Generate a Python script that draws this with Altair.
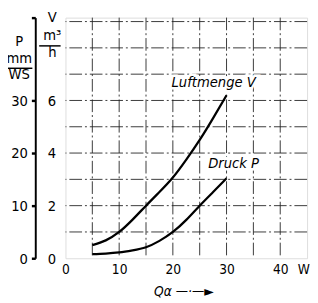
import altair as alt
import pandas as pd

# ---- data ----
q_w = [5, 7.5, 10, 12.5, 15, 17.5, 20, 22.5, 25, 27.5, 30]
luftmenge_v = [0.5, 0.68, 1.0, 1.47, 2.0, 2.52, 3.07, 3.75, 4.5, 5.33, 6.2]     # m3/h
druck_p = [0.8, 0.9, 1.1, 1.5, 2.1, 3.3, 5.0, 7.3, 10.0, 12.6, 15.2]            # mm WS

x_grid = [5, 10, 15, 20, 25, 30, 35, 40]
v_grid = [1, 2, 3, 4, 5, 6, 7, 8, 9]
x_ticks = [0, 10, 20, 30, 40, 44.3]
v_ticks = [0, 2, 4, 6]

label_text = ["Luftmenge V", "Druck P"]
label_q = [27.6, 31.3]
label_v = [6.7, 3.6]

P_PER_V = 5.0      # 30 mm WS <-> 6 m3/h
V_MAX = 9.15
X_MAX = 45

FONT = "DejaVu Sans Condensed, Liberation Sans Narrow, Liberation Sans, sans-serif"

curves = pd.DataFrame({
    "q": q_w + q_w,
    "v": luftmenge_v + [p / P_PER_V for p in druck_p],
    "series": ["V"] * len(q_w) + ["P"] * len(q_w),
})
vgrid_df = pd.DataFrame({"gx": x_grid})
hgrid_df = pd.DataFrame({"gy": v_grid})
labels_df = pd.DataFrame({"t": label_text, "q": label_q, "v": label_v})

xs = alt.Scale(domain=[0, X_MAX], nice=False, zero=False)
ys = alt.Scale(domain=[0, V_MAX], nice=False)

x_axis = alt.Axis(
    values=x_ticks, labelExpr="datum.value > 42 ? 'W' : datum.value",
    ticks=False, domain=False, grid=False, labelPadding=5,
    labelFont=FONT, labelFontSize=14, labelColor="black",
    labelOverlap=False, labelFlush=False,
    title="Qα  —·—►", titleFont=FONT, titleFontSize=14, titleFontStyle="italic",
    titleFontWeight="normal", titleColor="black", titleX=121, titleY=34,
    titleAlign="center", titleBaseline="middle",
)

v_axis = alt.Axis(
    orient="left", values=v_ticks, ticks=False, domain=False, grid=False,
    labelPadding=10, labelFont=FONT, labelFontSize=15, labelColor="black",
    title=["V", "m³", "h"], titleAngle=0, titleAlign="center", titleBaseline="middle",
    titleX=-14, titleY=-1, titleLineHeight=18, titleFont=FONT, titleFontSize=15,
    titleFontWeight="normal", titleColor="black",
)

p_axis = alt.Axis(
    orient="left", offset=31, values=v_ticks + [V_MAX],
    labelExpr=f"datum.value > 8 ? '' : format(datum.value * {P_PER_V}, 'd')",
    domain=True, domainColor="black", domainWidth=2,
    ticks=True, tickColor="black", tickSize=4, tickWidth=2.5, tickOffset=0,
    grid=False, labelPadding=4, labelFont=FONT, labelFontSize=15, labelColor="black",
    title=["P", "mm", "WS"], titleAngle=0, titleAlign="center", titleBaseline="middle",
    titleX=-17, titleY=24, titleLineHeight=17, titleFont=FONT, titleFontSize=15,
    titleFontWeight="normal", titleColor="black",
)

grid_style = dict(color="#222222", strokeWidth=0.9, strokeDash=[13, 3, 2, 3])

vgrid = alt.Chart(vgrid_df).mark_rule(**grid_style).encode(
    x=alt.X("gx:Q", scale=xs, axis=x_axis)
)
hgrid = alt.Chart(hgrid_df).mark_rule(**grid_style).encode(
    y=alt.Y("gy:Q", scale=ys, axis=None)
)

line_v = alt.Chart(curves).transform_filter("datum.series == 'V'").mark_line(
    color="black", strokeWidth=2.3, interpolate="natural"
).encode(
    x=alt.X("q:Q", scale=xs, axis=x_axis),
    y=alt.Y("v:Q", scale=ys, axis=v_axis),
)
line_p = alt.Chart(curves).transform_filter("datum.series == 'P'").mark_line(
    color="black", strokeWidth=2.3, interpolate="natural"
).encode(
    x=alt.X("q:Q", scale=xs, axis=x_axis),
    y=alt.Y("v:Q", scale=ys, axis=p_axis),
)

label_halo = alt.Chart(labels_df).mark_text(
    font=FONT, fontSize=15, fontStyle="italic", stroke="white", strokeWidth=5,
    fill="white"
).encode(
    x=alt.X("q:Q", scale=xs, axis=x_axis),
    y=alt.Y("v:Q", scale=ys, axis=None),
    text="t:N",
)
label_txt = alt.Chart(labels_df).mark_text(
    font=FONT, fontSize=15, fontStyle="italic", color="black"
).encode(
    x=alt.X("q:Q", scale=xs, axis=x_axis),
    y=alt.Y("v:Q", scale=ys, axis=None),
    text="t:N",
)

# fraction bars of the unit labels
frac_p = alt.Chart(labels_df.head(1)).mark_rule(color="black", strokeWidth=1.5).encode(
    x=alt.value(-61), x2=alt.value(-34), y=alt.value(52)
)
frac_v = alt.Chart(labels_df.head(1)).mark_rule(color="black", strokeWidth=1.5).encode(
    x=alt.value(-27), x2=alt.value(-5), y=alt.value(29)
)

chart = alt.layer(
    vgrid, hgrid, line_v, line_p, label_halo, label_txt, frac_p, frac_v
).resolve_axis(y="independent").properties(
    width=248, height=247,
    autosize=alt.AutoSizeParams(type="none"),
    padding={"left": 59, "top": 6, "right": 3, "bottom": 40},
).configure_view(
    stroke="black", strokeWidth=2.5
).configure(background="white")

chart.save("out.html", embed_options={"renderer": "svg", "actions": False})
